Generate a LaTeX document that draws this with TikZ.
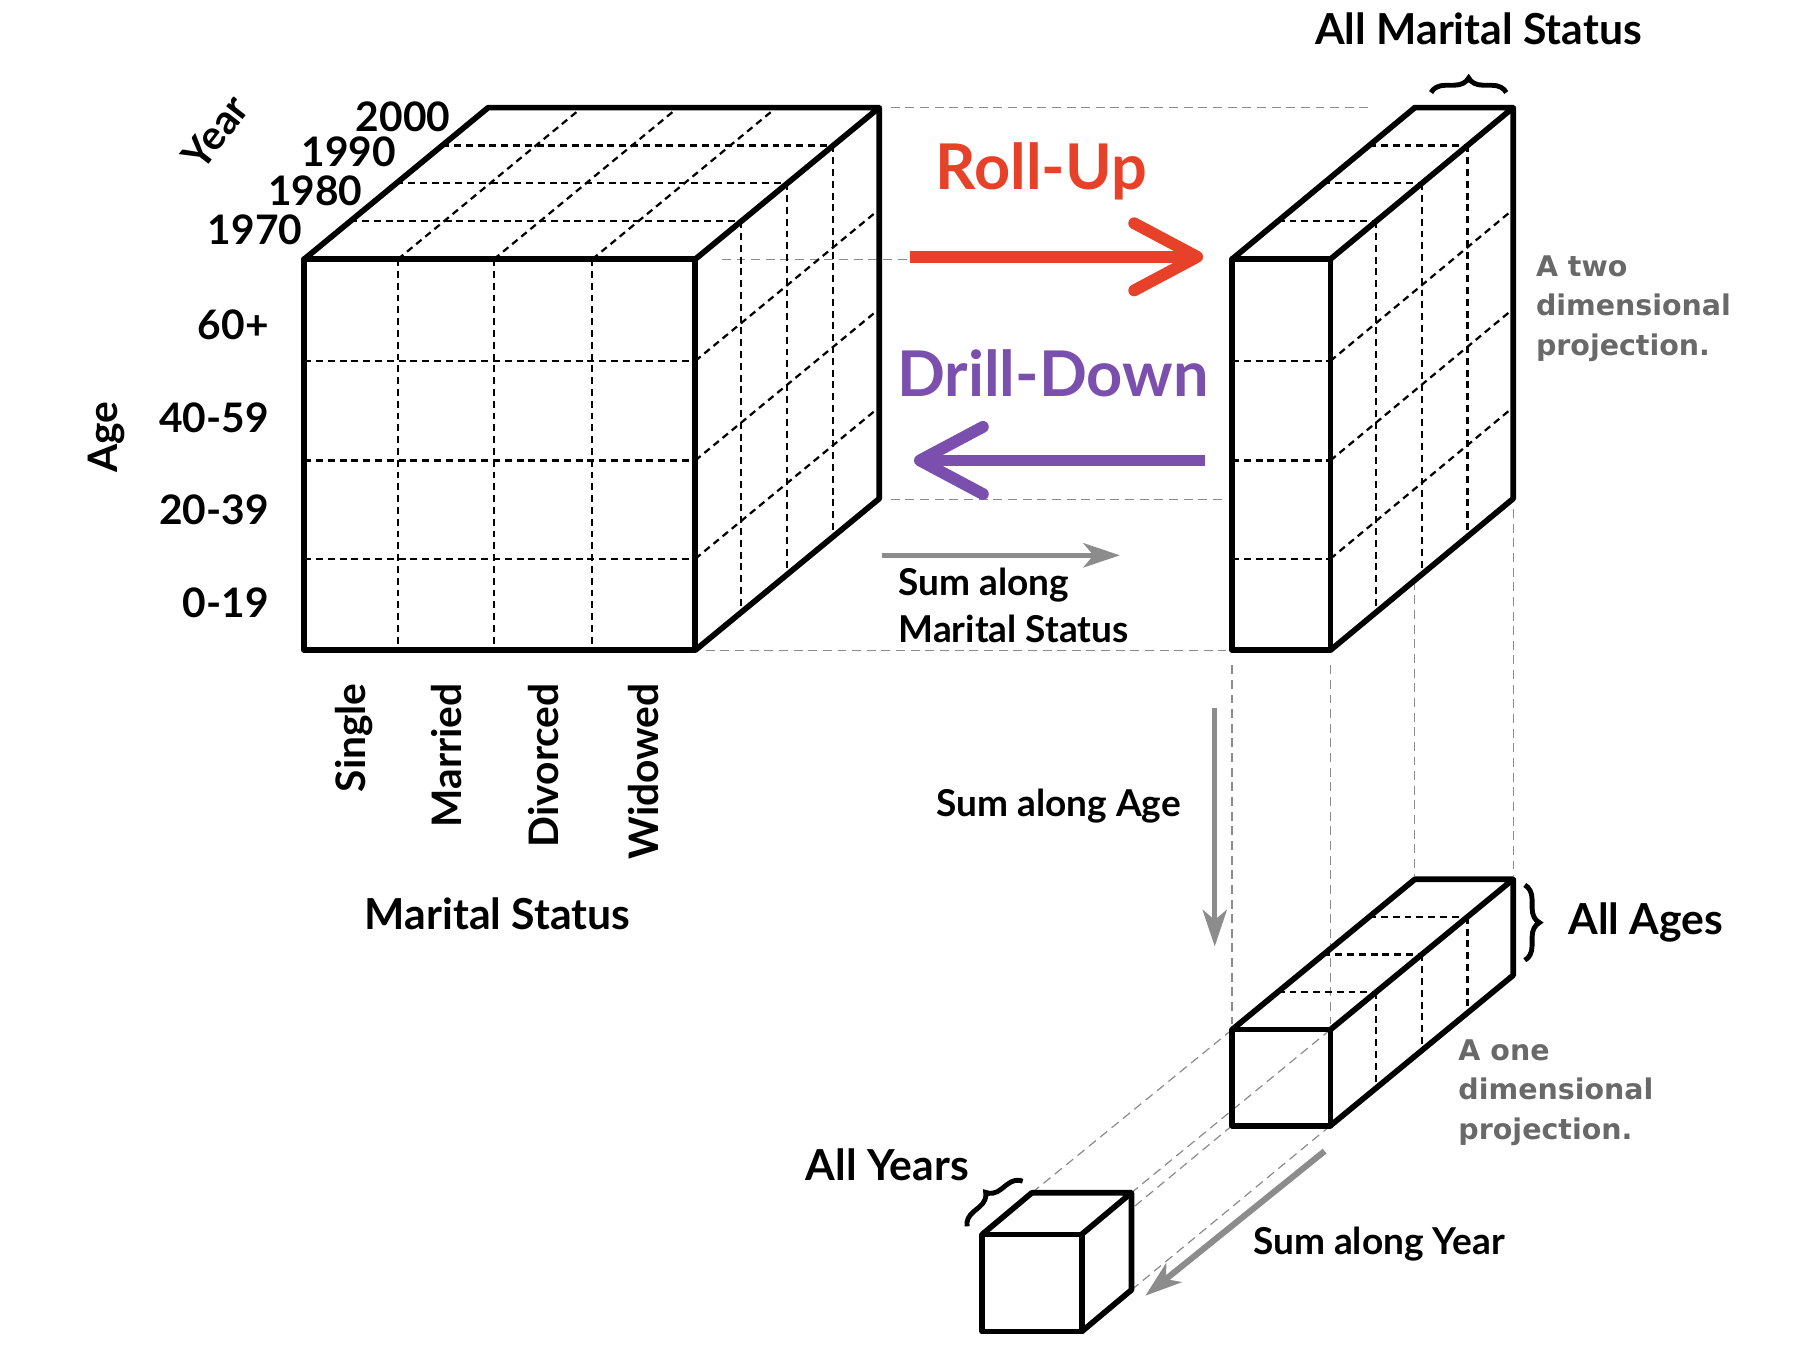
\documentclass[tikz,border=0pt]{standalone}
\usepackage{fontspec}
\setmainfont{Lato}
\newfontfamily\projfont{DejaVu Sans}
\usetikzlibrary{arrows.meta,decorations.pathreplacing}
\definecolor{rollred}{RGB}{232,65,42}
\definecolor{drillpurple}{RGB}{123,79,173}
\definecolor{sumgray}{RGB}{140,140,140}
\definecolor{projgray}{RGB}{105,105,105}
\begin{document}
\begin{tikzpicture}[x=0.01cm,y=-0.01cm,
  edge/.style={line width=1.4pt,line join=round},
  grid/.style={line width=0.55pt,dash pattern=on 1.7pt off 1.2pt},
  guide/.style={black!45,line width=0.3pt,dash pattern=on 2.2pt off 1.4pt},
  ticklbl/.style={inner sep=0pt,font=\fontsize{10}{12}\selectfont\bfseries},
  titlelbl/.style={inner sep=0pt,font=\fontsize{10.5}{13}\selectfont\bfseries},
  sumlbl/.style={inner sep=0pt,align=left,font=\fontsize{9.1}{11.7}\selectfont\bfseries},
  projlbl/.style={inner sep=0pt,align=left,text=projgray,font=\fontsize{7}{9.7}\selectfont\projfont\bfseries},
  bigarrow/.style={line width=2.9pt,-{Straight Barb[round,length=15.5pt,width=16.5pt]}},
  sumarrow/.style={sumgray,line width=1.1pt,-{Stealth[length=9pt,width=6pt,inset=2.5pt]}},
  cbrace/.style={decorate,decoration={brace,amplitude=3.6pt},line width=1.2pt}]
  \useasboundingbox (0,0) rectangle (1568,1184);
  % guide lines between the projections
  \draw[guide] (770,93) -- (1185,93);
  \draw[guide] (624,224) -- (1040,224);
  \draw[guide] (770,432) -- (1060,432);
  \draw[guide] (610,562) -- (1060,562);
  \draw[guide] (1065,575) -- (1065,885);
  \draw[guide] (1150,575) -- (1150,885);
  \draw[guide] (1223,502) -- (1223,757);
  \draw[guide] (1308,440) -- (1308,757);
  \draw[guide] (1065,890) -- (892,1031);
  \draw[guide] (1150,890) -- (978,1031);
  \draw[guide] (1065,973) -- (978,1045);
  \draw[guide] (1150,973) -- (978,1115);
  % data cube
  \foreach \x in {344,427,512} {
    \draw[grid] (\x,224) -- (\x,562);
    \draw[grid] (\x,224) -- ++(159,-131);
  }
  \foreach \y in {312,398,483} {
    \draw[grid] (263,\y) -- (601,\y);
    \draw[grid] (601,\y) -- ++(159,-131);
  }
  \foreach \k in {1,2,3} {
    \draw[grid] ({263+39.75*\k},{224-32.75*\k}) -- ++(338,0);
    \draw[grid] ({601+39.75*\k},{224-32.75*\k}) -- ++(0,338);
  }
  \draw[edge] (263,224) rectangle (601,562);
  \draw[edge] (263,224) -- (422,93) -- (760,93) -- (601,224);
  \draw[edge] (760,93) -- (760,431) -- (601,562);
  % two dimensional projection
  \foreach \y in {312,398,483} {
    \draw[grid] (1065,\y) -- (1150,\y);
    \draw[grid] (1150,\y) -- ++(158,-131);
  }
  \foreach \k in {1,2,3} {
    \draw[grid] ({1065+39.5*\k},{224-32.75*\k}) -- ++(85,0);
    \draw[grid] ({1150+39.5*\k},{224-32.75*\k}) -- ++(0,338);
  }
  \draw[edge] (1065,224) rectangle (1150,562);
  \draw[edge] (1065,224) -- (1223,93) -- (1308,93) -- (1150,224);
  \draw[edge] (1308,93) -- (1308,431) -- (1150,562);
  % one dimensional projection
  \foreach \k in {1,2,3} {
    \draw[grid] ({1065+39.5*\k},{890-32.5*\k}) -- ++(85,0);
    \draw[grid] ({1150+39.5*\k},{890-32.5*\k}) -- ++(0,83);
  }
  \draw[edge] (1065,890) rectangle (1150,973);
  \draw[edge] (1065,890) -- (1223,760) -- (1308,760) -- (1150,890);
  \draw[edge] (1308,760) -- (1308,843) -- (1150,973);
  % total
  \draw[edge] (849,1067) rectangle (935,1151);
  \draw[edge] (849,1067) -- (892,1031) -- (978,1031) -- (935,1067);
  \draw[edge] (978,1031) -- (978,1115) -- (935,1151);
  % braces
  \draw[cbrace] (1237,80) -- (1302,80);
  \draw[cbrace] (1318,765) -- (1318,830);
  \draw[cbrace] (836,1060) -- (884,1021);
  % axis labels
  \node[ticklbl,rotate=52] (year) at (186,114) {Year};
  \node[ticklbl,anchor=east] (y1970) at (262,199) {1970};
  \node[ticklbl,anchor=east] (y1980) at (314,165) {1980};
  \node[ticklbl,anchor=east] (y1990) at (343,131) {1990};
  \node[ticklbl,anchor=east] (y2000) at (390,101) {2000};
  \node[ticklbl,rotate=90] (age) at (92,378) {Age};
  \node[ticklbl,anchor=east] (a60) at (233,281) {60+};
  \node[ticklbl,anchor=east] (a40) at (233,361) {40-59};
  \node[ticklbl,anchor=east] (a20) at (233,441) {20-39};
  \node[ticklbl,anchor=east] (a0) at (233,521) {0-19};
  \node[ticklbl,rotate=90,anchor=east] (single) at (306,590) {Single};
  \node[ticklbl,rotate=90,anchor=east] (married) at (386,590) {Married};
  \node[ticklbl,rotate=90,anchor=east] (divorced) at (470,590) {Divorced};
  \node[ticklbl,rotate=90,anchor=east] (widowed) at (556,590) {Widowed};
  \node[titlelbl] (mstatus) at (430,790) {Marital Status};
  \node[titlelbl] (allms) at (1278,25) {All Marital Status};
  \node[titlelbl,anchor=west] (allages) at (1355,797) {All Ages};
  \node[titlelbl] (allyears) at (767,1007) {All Years};
  % operations
  \node[inner sep=0pt,text=rollred,font=\fontsize{15.5}{18}\selectfont\bfseries] (rollup) at (900,148) {Roll-Up};
  \node[inner sep=0pt,text=drillpurple,font=\fontsize{15.5}{18}\selectfont\bfseries] (drilldown) at (910,323) {Drill-Down};
  \coordinate (rollS) at (787,222);
  \coordinate (rollE) at (1040,222);
  \coordinate (drillS) at (1042,398);
  \coordinate (drillE) at (790,398);
  \draw[bigarrow,rollred] (rollS) -- (rollE);
  \draw[bigarrow,drillpurple] (drillS) -- (drillE);
  % sums
  \coordinate (msS) at (762,480);
  \coordinate (msE) at (968,480);
  \coordinate (ageS) at (1050,612);
  \coordinate (ageE) at (1050,818);
  \coordinate (yearS) at (1145,995);
  \coordinate (yearE) at (990,1120);
  \draw[sumarrow] (msS) -- (msE);
  \draw[sumarrow] (ageS) -- (ageE);
  \draw[sumarrow,line width=1.5pt] (yearS) -- (yearE);
  \node[sumlbl,anchor=north west] (summs) at (776,490) {Sum along\\Marital Status};
  \node[sumlbl] (sumage) at (915,697) {Sum along Age};
  \node[sumlbl] (sumyear) at (1192,1075) {Sum along Year};
  \node[projlbl,anchor=north west] (twod) at (1327,220) {A two\\dimensional\\projection.};
  \node[projlbl,anchor=north west] (oned) at (1260,898) {A one\\dimensional\\projection.};
\end{tikzpicture}
\end{document}
